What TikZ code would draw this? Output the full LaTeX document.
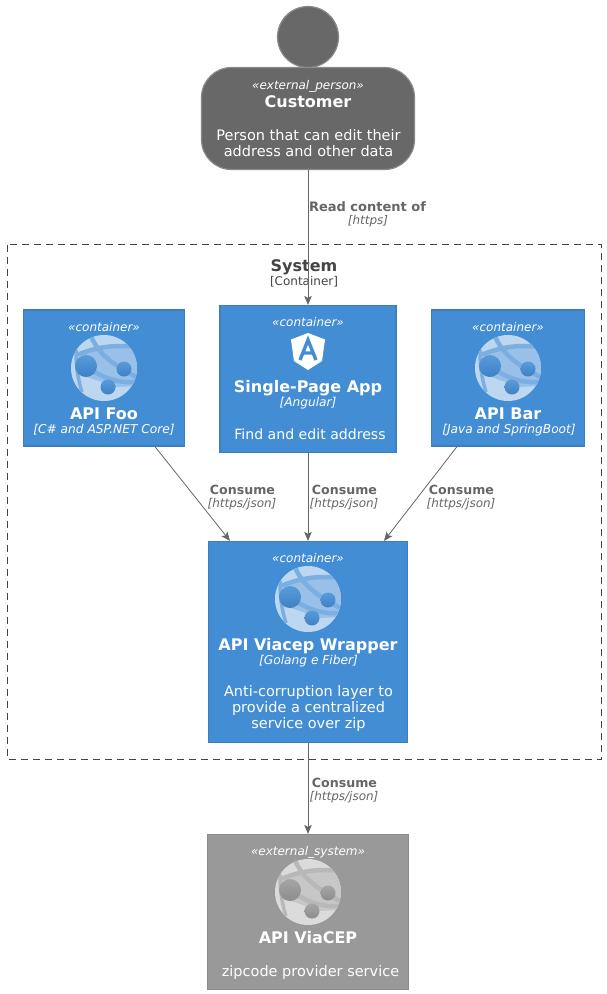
\documentclass[tikz,border=0pt]{standalone}
\usepackage{fontspec}
\setmainfont{DejaVu Sans}
\usetikzlibrary{arrows.meta}
\definecolor{boxblue}{HTML}{438DD5}
\definecolor{boxblueline}{HTML}{3C7FC0}
\definecolor{persongray}{HTML}{686868}
\definecolor{sysgray}{HTML}{999999}
\definecolor{grayline}{HTML}{8A8A8A}
\definecolor{wireline}{HTML}{666666}
\definecolor{boundaryink}{HTML}{444444}
\tikzset{
  boxnode/.style={draw=boxblueline,fill=boxblue,line width=1.2pt,inner sep=0pt},
  sysnode/.style={draw=grayline,fill=sysgray,line width=1.2pt,inner sep=0pt},
  stereo/.style={text=white,font=\fontsize{12}{14}\selectfont\itshape,inner sep=0pt,text height=9pt,text depth=0pt},
  title/.style={text=white,font=\fontsize{16}{19}\selectfont\bfseries,inner sep=0pt,text height=12pt,text depth=0pt},
  tech/.style={text=white,font=\fontsize{12.2}{14}\selectfont\itshape,inner sep=0pt},
  desc/.style={text=white,font=\fontsize{14.5}{16}\selectfont,inner sep=0pt,align=center},
  wire/.style={draw=wireline,line width=0.8pt,-{Stealth[length=9pt,width=7.5pt,inset=2pt]}},
  wirelabel/.style={text=wireline,font=\fontsize{12.6}{15}\selectfont\bfseries,inner sep=0pt},
  wiretech/.style={text=wireline,font=\fontsize{12}{14}\selectfont\itshape,inner sep=0pt},
  pics/globe/.style={code={
    \fill[#1!35!white] (0,0) circle (33);
    \begin{scope}
      \clip (0,0) circle (33);
      \fill[#1!55!white] (-22,-14) -- (4,-21) -- (33,-20) -- (33,18) -- (12,19) -- (-8,12) -- (-26,6) -- cycle;
      \draw[#1!70!white,line width=4.5pt] (-14,-34) .. controls (-6,-14) and (8,-4) .. (34,10);
      \draw[#1!70!white,line width=4.5pt] (-27,-13) .. controls (-10,-20) and (8,-24) .. (33,-21);
      \draw[#1!70!white,line width=4.5pt] (-18,-2) .. controls (-8,6) and (10,16) .. (33,14);
      \draw[#1!70!white,line width=3.5pt] (-28,-18) .. controls (-28,-4) and (-27,8) .. (-22,24);
    \end{scope}
    \shade[top color=#1!88!white,bottom color=#1!92!black] (-18,-2) circle (11);
    \shade[top color=#1!88!white,bottom color=#1!92!black] (20,1) circle (7.5);
    \shade[top color=#1!88!white,bottom color=#1!92!black] (4,19) circle (7.5);
  }}
}
\begin{document}
\begin{tikzpicture}[x=1pt,y=-1pt]
  \useasboundingbox (0,0) rectangle (606,994);

  % boundary
  \draw[boundaryink,dash pattern=on 7pt off 5pt,line width=0.8pt] (7.5,244.5) rectangle (601.5,759);
  \node[text=boundaryink,font=\fontsize{16}{19}\selectfont\bfseries,inner sep=0pt,text height=12pt,text depth=0pt] (systemname) at (304,265.5) {System};
  \node[text=boundaryink,font=\fontsize{12}{14}\selectfont,inner sep=0pt] (systemkind) at (304,282) {[Container]};

  % customer
  \node[circle,draw=grayline,fill=persongray,line width=1.2pt,minimum size=61pt,inner sep=0pt] (head) at (308,37) {};
  \node[rectangle,rounded corners=30pt,draw=grayline,fill=persongray,line width=1.2pt,minimum width=213pt,minimum height=102pt,inner sep=0pt] (customer) at (308,118.5) {};
  \node[stereo] (customerkind) at (308,85) {«external\_person»};
  \node[title] (customername) at (308,101.5) {Customer};
  \node[desc] (customertext) at (308.5,143) {Person that can edit their\\address and other data};

  % containers
  \node[boxnode,minimum width=161pt,minimum height=136pt] (foo) at (104,378) {};
  \node[boxnode,minimum width=176pt,minimum height=147pt] (spa) at (308,379) {};
  \node[boxnode,minimum width=153pt,minimum height=136pt] (bar) at (508,378) {};
  \node[boxnode,minimum width=199pt,minimum height=201pt] (wrapper) at (308,642) {};
  \node[sysnode,minimum width=201pt,minimum height=155pt] (viacep) at (308,912) {};

  % API Foo
  \node[stereo] (fookind) at (104,327) {«container»};
  \pic at (104,368) {globe=boxblue};
  \node[title] (fooname) at (104,413.5) {API Foo};
  \node[tech] (footech) at (104,430) {[C\# and ASP.NET Core]};

  % Single-Page App
  \node[stereo] (spakind) at (308,322) {«container»};
  \fill[white] (308,333) -- (325,339.5) -- (322,361) -- (308,370) -- (294,361) -- (291,339.5) -- cycle;
  \draw[boxblue,line width=3.4pt] (300,360) -- (308,340) -- (316,360) (302.5,353) -- (313.5,353);
  \node[title] (spaname) at (308,386.5) {Single-Page App};
  \node[tech] (spatech) at (308,403) {[Angular]};
  \node[desc,font=\fontsize{14.1}{16}\selectfont] (spatext) at (310,434) {Find and edit address};

  % API Bar
  \node[stereo] (barkind) at (508,327) {«container»};
  \pic at (508,368) {globe=boxblue};
  \node[title] (barname) at (508,413.5) {API Bar};
  \node[tech] (bartech) at (509,430) {[Java and SpringBoot]};

  % API Viacep Wrapper
  \node[stereo] (wrapperkind) at (308,558) {«container»};
  \pic at (308,599) {globe=boxblue};
  \node[title] (wrappername) at (308,644.5) {API Viacep Wrapper};
  \node[tech] (wrappertech) at (308.5,661) {[Golang e Fiber]};
  \node[desc] (wrappertext) at (308.5,708.5) {Anti-corruption layer to\\provide a centralized\\service over zip};

  % API ViaCEP
  \node[stereo] (viacepkind) at (308,851) {«external\_system»};
  \pic at (308,892) {globe=sysgray};
  \node[title] (viacepname) at (308,937.5) {API ViaCEP};
  \node[desc] (viaceptext) at (310.5,972) {zipcode provider service};

  % connectors
  \draw[wire] (customer.south) -- (spa.north);
  \draw[wire] (spa.south) -- (wrapper.north);
  \draw[wire] ([xshift=51pt]foo.south) -- ([xshift=-78pt]wrapper.north);
  \draw[wire] ([xshift=-51pt]bar.south) -- ([xshift=76pt]wrapper.north);
  \draw[wire] (wrapper.south) -- (viacep.north);

  % connector labels
  \node[wirelabel,font=\fontsize{13}{15}\selectfont\bfseries] (readlabel) at (367.5,206.5) {Read content of};
  \node[wiretech] (readtech) at (368,221.5) {[https]};
  \node[wirelabel] (foolabel) at (242.5,490) {Consume};
  \node[wiretech] (footech2) at (242,504.5) {[https/json]};
  \node[wirelabel] (spalabel) at (344.5,490) {Consume};
  \node[wiretech] (spatech2) at (344,504.5) {[https/json]};
  \node[wirelabel] (barlabel) at (461.5,490) {Consume};
  \node[wiretech] (bartech2) at (461,504.5) {[https/json]};
  \node[wirelabel] (outlabel) at (344.5,783) {Consume};
  \node[wiretech] (outtech) at (344,797.5) {[https/json]};
\end{tikzpicture}
\end{document}
